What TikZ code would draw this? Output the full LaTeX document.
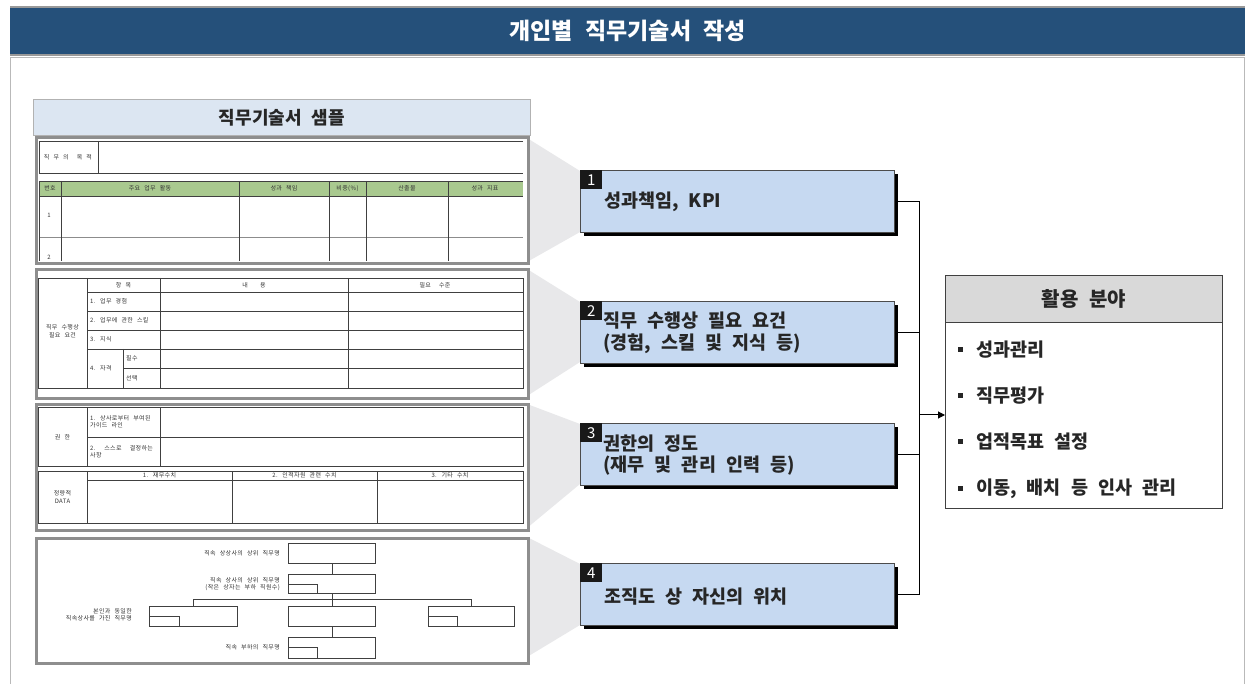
\documentclass[tikz,border=0pt]{standalone}
\usepackage{fontspec}
\setmainfont{Noto Sans CJK KR}[WordSpace=2.4]
\newfontfamily\tinyfont{Noto Sans CJK KR}[LetterSpace=6, WordSpace=2.4]
\usetikzlibrary{shadows,arrows.meta}
\definecolor{titlebg}{HTML}{25507A}
\definecolor{boxblue}{HTML}{C6D9F1}
\definecolor{hdrblue}{HTML}{DCE6F2}
\definecolor{tgreen}{HTML}{A9C98F}
\definecolor{funnelc}{HTML}{E8E8EA}
\definecolor{framegray}{HTML}{8E8E8E}
\definecolor{txtdark}{HTML}{262626}
\tikzset{
  tiny/.style={font=\tinyfont\fontsize{6}{7.5}\selectfont, text=black!80, inner sep=0, align=center},
  tinyl/.style={tiny, anchor=west, align=left},
  tline/.style={draw=black!75, line width=0.6},
  panel/.style={draw=framegray, line width=3, anchor=north west, inner sep=0},
  fun/.style={fill=funnelc, draw=none},
  numbox/.style={draw=black!70, line width=0.8, fill=boxblue, anchor=north west, inner sep=0,
    minimum width=314, minimum height=62,
    drop shadow={shadow xshift=3.5pt, shadow yshift=-3.5pt, opacity=1, fill=black}},
  numtag/.style={fill=black!90, text=white, anchor=north west, inner sep=0, minimum width=22, minimum height=19,
    font=\fontsize{15}{15}\selectfont},
  boxtext/.style={anchor=west, align=left, inner sep=0, text=txtdark,
    font=\fontsize{18.5}{21.5}\selectfont\bfseries},
  conn/.style={draw=black, line width=1},
  orgbox/.style={draw=black!75, line width=0.6},
  itemtext/.style={anchor=west, inner sep=0, text=txtdark, font=\fontsize{18.5}{20}\selectfont\bfseries},
}
\begin{document}
\begin{tikzpicture}[x=1pt,y=-1pt]
\useasboundingbox (0,0) rectangle (1245,684);
\fill[white] (0,0) rectangle (1245,684);

% title bar
\node[fill=titlebg, minimum width=1235, minimum height=48, anchor=north west, inner sep=0,
  text=white, font=\fontsize{23}{23}\selectfont\bfseries] (title) at (10,7) {개인별 직무기술서 작성};
\draw[gray!80, line width=1.2] (10,7) -- (1245,7);
\draw[gray!80, line width=1.2] (10,55) -- (1245,55);
% content frame
\draw[gray!55, line width=1] (10,684) -- (10,57.5) -- (1244,57.5) -- (1244,684);

% funnels
\fill[fun] (527,138) -- (580,171) -- (580,232) -- (527,262) -- cycle;
\fill[fun] (527,269) -- (580,302) -- (580,362) -- (527,396) -- cycle;
\fill[fun] (527,404) -- (580,424) -- (580,484) -- (527,528) -- cycle;
\fill[fun] (527,537) -- (580,564) -- (580,625) -- (527,657) -- cycle;

% sample header
\node[draw=gray!60, line width=0.8, fill=hdrblue, anchor=north west, inner sep=0, minimum width=497, minimum height=36,
  text=txtdark, font=\fontsize{18}{18}\selectfont\bfseries] (samplehdr) at (33,99) {직무기술서 샘플};

% panels
\node[panel, minimum width=492, minimum height=126] (p1) at (34.5,136.5) {};
\node[panel, minimum width=492, minimum height=129] (p2) at (34.5,268.5) {};
\node[panel, minimum width=492, minimum height=125] (p3) at (34.5,403.5) {};
\node[panel, minimum width=492, minimum height=125] (p4) at (34.5,537) {};

% ---- panel 1
\begin{scope}
\clip (36,138) rectangle (524.5,260.5);
\draw[tline] (523,141) -- (39,141) -- (39,173) -- (523,173);
\draw[tline] (98,141) -- (98,173);
\node[tiny] at (68,157) {직 무 의 \ 목 적};
\fill[tgreen] (39,181) rectangle (523,196);
\draw[tline] (39,181) -- (523,181);
\draw[tline] (39,196) -- (523,196);
\draw[tline, draw=black!45] (39,237) -- (523,237);
\foreach \x in {39,61,239,329,366,448} \draw[tline] (\x,181) -- (\x,262);
\node[tiny] at (50,188.5) {번호};
\node[tiny] at (150,188.5) {주요 업무 활동};
\node[tiny] at (284,188.5) {성과 책임};
\node[tiny] at (347.5,188.5) {비중(\%)};
\node[tiny] at (407,188.5) {산출물};
\node[tiny] at (485,188.5) {성과 지표};
\node[tiny] at (49,215) {1};
\node[tiny] at (49,257) {2};
\end{scope}

% ---- panel 2
\draw[tline] (38,278) rectangle (523,388);
\foreach \x in {87,160,348} \draw[tline] (\x,278) -- (\x,388);
\draw[tline] (123,349) -- (123,388);
\foreach \y in {292,311,330,349} \draw[tline] (87,\y) -- (523,\y);
\draw[tline] (123,368) -- (523,368);
\node[tiny] at (62.5,331) {직무 수행상\\필요 요건};
\node[tiny] at (123.5,285) {항 목};
\node[tiny] at (254,285) {내 \ \ 용};
\node[tiny] at (435,285) {필요 \ 수준};
\node[tinyl] at (90,301.5) {1. 업무 경험};
\node[tinyl] at (90,320.5) {2. 업무에 관한 스킬};
\node[tinyl] at (90,339.5) {3. 지식};
\node[tinyl] at (90,368.5) {4. 자격};
\node[tinyl] at (126,358.5) {필수};
\node[tinyl] at (126,378) {선택};

% ---- panel 3
\draw[tline] (38,407) rectangle (523,466);
\draw[tline] (87,407) -- (87,466);
\draw[tline] (160,407) -- (160,466);
\draw[tline] (87,437) -- (523,437);
\node[tiny] at (62.5,437) {권 한};
\node[tinyl] at (90,422) {1. 상사로부터 부여된\\가이드 라인};
\node[tinyl] at (90,452) {2. \ 스스로 \ 결정하는\\사항};
\draw[tline] (38,471) rectangle (523,523);
\foreach \x in {87,232,377} \draw[tline] (\x,471) -- (\x,523);
\draw[tline] (87,480) -- (523,480);
\node[tiny] at (62.5,497) {정량적\\DATA};
\node[tiny] at (159.5,475.5) {1. 재무수치};
\node[tiny] at (304.5,475.5) {2. 인적자원 관련 수치};
\node[tiny] at (450,475.5) {3. 기타 수치};

% ---- panel 4 (org chart)
\node[orgbox, anchor=north west, minimum width=87, minimum height=20, inner sep=0] (o1) at (288,543) {};
\node[orgbox, anchor=north west, minimum width=87, minimum height=19, inner sep=0] (o2) at (288,574) {};
\node[orgbox, anchor=north west, minimum width=88, minimum height=20, inner sep=0] (o3) at (149,606) {};
\node[orgbox, anchor=north west, minimum width=87, minimum height=20, inner sep=0] (o4) at (288,606) {};
\node[orgbox, anchor=north west, minimum width=86, minimum height=20, inner sep=0] (o5) at (428,606) {};
\node[orgbox, anchor=north west, minimum width=87, minimum height=21, inner sep=0] (o6) at (288,637) {};
\draw[orgbox] (288,584) rectangle (317,593);
\draw[orgbox] (149,616) rectangle (179,626);
\draw[orgbox] (428,616) rectangle (457,626);
\draw[orgbox] (288,647) rectangle (317,658);
\coordinate (hb) at (333,599);
\draw[orgbox] (o1.south) -- (o2.north);
\draw[orgbox] (o2.south) -- (o4.north);
\draw[orgbox] (o3.north) -- (o3.north |- hb) -- (o5.north |- hb) -- (o5.north);
\draw[orgbox] (o4.south) -- (o6.north);
\node[tiny, anchor=east, align=right] at (280,553) {직속 상상사의 상위 직무명};
\node[tiny, anchor=east, align=right] at (280,584) {직속 상사의 상위 직무명\\(작은 상자는 부하 직원수)};
\node[tiny, anchor=east, align=right] at (132,615) {본인과 동일한\\직속상사를 가진 직무명};
\node[tiny, anchor=east, align=right] at (280,647.5) {직속 부하의 직무명};

% ---- numbered boxes
\node[numbox] (b1) at (580,170) {};
\node[numbox] (b2) at (580,301) {};
\node[numbox] (b3) at (580,423) {};
\node[numbox] (b4) at (580,563) {};
\node[numtag] (t1) at (b1.north west) {1};
\node[numtag] (t2) at (b2.north west) {2};
\node[numtag] (t3) at (b3.north west) {3};
\node[numtag] (t4) at (b4.north west) {4};
\node[boxtext] (x1) at (604,202) {성과책임, KPI};
\node[boxtext] (x2) at (603,333) {직무 수행상 필요 요건\\(경험, 스킬 및 지식 등)};
\node[boxtext] (x3) at (603,455) {권한의 정도\\(재무 및 관리 인력 등)};
\node[boxtext] (x4) at (604,597) {조직도 상 자신의 위치};

% ---- usage box
\node[draw=black!75, line width=0.8, fill=white, anchor=north west, inner sep=0, minimum width=277, minimum height=233] (use) at (945,275) {};
\node[draw=black!75, line width=0.8, fill=black!15, anchor=north west, inner sep=0, minimum width=277, minimum height=47,
  text=txtdark, font=\fontsize{20}{20}\selectfont\bfseries] (usehead) at (945,275) {활용 분야};
\foreach \y/\t in {350/성과관리, 396/직무평가, 442/업적목표 설정, 489/{이동, 배치 등 인사 관리}} {
  \fill[txtdark] (957.5,\y-3) rectangle (962.5,\y+2);
  \node[itemtext] at (976,\y) {\t};
}

% ---- connectors
\coordinate (bus) at (919,415);
\draw[conn] (b1.east) -| (bus);
\draw[conn] (b4.east) -| (bus);
\draw[conn] (b2.east) -- (b2.east -| bus);
\draw[conn] (b3.east) -- (b3.east -| bus);
\draw[conn, -{Triangle[length=7,width=7]}] (bus) -- (use.west |- bus);
\end{tikzpicture}
\end{document}
